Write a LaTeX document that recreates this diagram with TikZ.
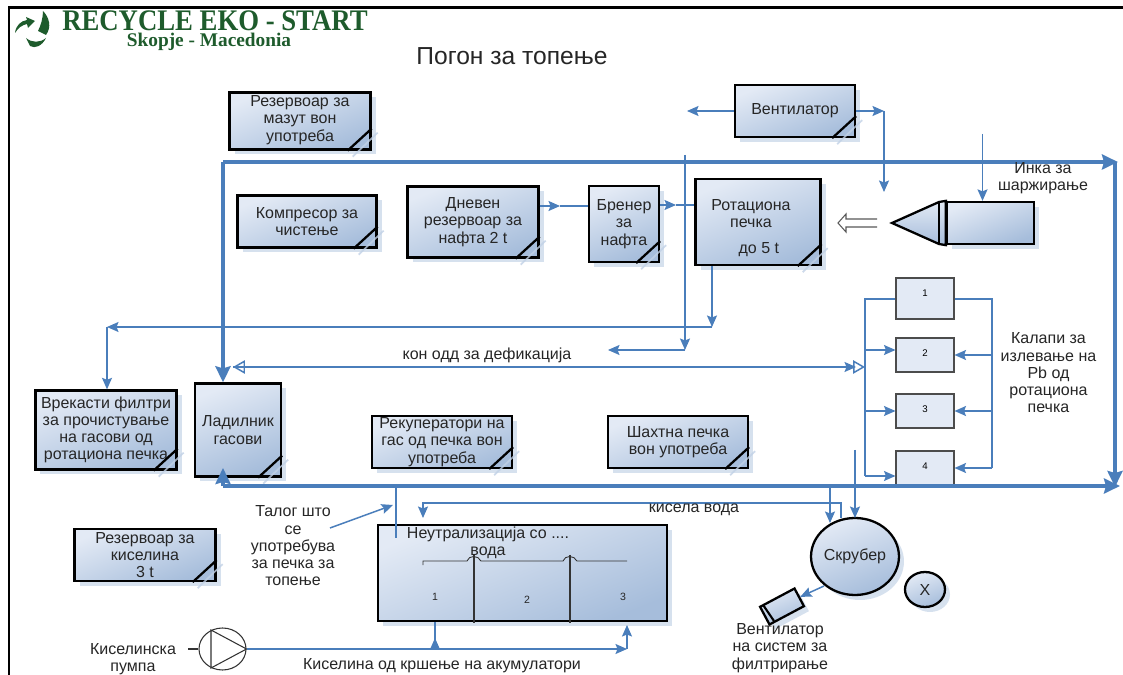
\documentclass[tikz,border=0pt]{standalone}
\usepackage{fontspec}
\setmainfont{Liberation Sans}
\newfontfamily\logofont{Liberation Serif}
\usepackage{tikz}
\usetikzlibrary{arrows, arrows.meta, shadows, shapes.geometric}
\definecolor{flowblue}{HTML}{4A7EBB}
\definecolor{boxlight}{HTML}{E3EAF5}
\definecolor{boxdark}{HTML}{A6BDDB}
\definecolor{logogreen}{HTML}{1E5B2C}
\tikzset{
    procbox/.style 2 args={draw=black, line width=1.3pt, top color=boxlight, bottom color=boxdark,
        shading angle=22, minimum width=#1*0.02cm, minimum height=#2*0.02cm, inner sep=0pt,
        align=center, font=\fontsize{9.1}{9.8}\selectfont, text=black!85,
        drop shadow={shadow xshift=0.1cm, shadow yshift=-0.1cm, fill=boxdark, opacity=0.45}},
    moldbox/.style={draw=black!70, line width=0.6pt, fill=boxlight, minimum width=58*0.02cm,
        inner sep=0pt, label={[anchor=north, font=\fontsize{5.5}{6}\selectfont, yshift=-6*0.02cm]north:#1}},
    thinflow/.style={draw=flowblue, line width=0.85pt, >={Stealth[length=2.3mm, width=2mm, inset=0.4mm]}},
    thickflow/.style={draw=flowblue, line width=2.3pt, >={Stealth[length=3.2mm, width=3mm, inset=0.4mm]}},
    plaintext/.style={align=center, font=\fontsize{9.1}{9.8}\selectfont, text=black!85, inner sep=0pt},
    smalltext/.style={plaintext, font=\fontsize{6}{7}\selectfont},
}
\begin{document}
\begin{tikzpicture}[x=0.02cm, y=-0.02cm]
    \useasboundingbox (0, 0) rectangle (1123, 675);
    \fill [white] (0, 0) rectangle (1123, 675);
    % Frame
    \draw [black, line width=1.3pt] (9, 675) -- (9, 7.5) -- (1123, 7.5);
    % Logo
    \fill [logogreen] (15, 33) .. controls (16, 25) and (21, 21) .. (27, 20) -- (26, 17) -- (35, 21) -- (28, 28) -- (27, 24) .. controls (22, 25) and (18, 28) .. (15, 33);
    \fill [logogreen] (43, 11) .. controls (49, 17) and (52, 27) .. (46, 35) -- (38, 31) .. controls (41, 25) and (43, 18) .. (43, 11);
    \fill [logogreen] (26, 38) .. controls (32, 43) and (40, 43) .. (46, 38) .. controls (42, 46) and (35, 49) .. (30, 46) -- (26, 38);
    \node [logogreen, font=\logofont\bfseries\fontsize{17}{17}\selectfont, xscale=0.895, anchor=west, inner sep=0pt, text depth=0pt] (logotitle) at (62, 20.5) {RECYCLE EKO - START};
    \node [logogreen, font=\logofont\bfseries\fontsize{11}{11}\selectfont, inner sep=0pt, text depth=0pt, text height=6.5pt] (logosub) at (209, 41) {Skopje - Macedonia};
    % Title
    \node [plaintext, font=\fontsize{14}{15}\selectfont] (title) at (512, 56) {Погон за топење};
    % Boxes
    \node [procbox={141}{57}] (mazut) at (300, 121) {Резервоар за\\мазут вон\\употреба\rule[-3pt]{0pt}{3pt}};
    \node [procbox={139}{52}] (kompresor) at (307, 221.5) {Компресор за\\чистење};
    \node [procbox={131}{71}] (dneven) at (473, 222) {Дневен\\резервоар за\\нафта 2 t};
    \node [procbox={70}{76}] (brener) at (624, 224) {Бренер\\за\\нафта};
    \node [procbox={125}{86}] (rotaciona) at (758, 222) {\rule{0pt}{13pt}\hspace*{-8pt}Ротациона\\\hspace*{-8pt}печка\\[5pt]\hspace*{1pt}до 5 t};
    \node [procbox={120}{52}] (ventilator) at (795, 111) {Вентилатор};
    \node [procbox={141}{79}] (vrekasti) at (106, 430) {Врекасти филтри\\за прочистување\\на гасови од\\ротациона печка};
    \node [procbox={86}{93}] (ladilnik) at (238, 430) {Ладилник\\гасови};
    \node [procbox={140}{52}] (rekuperatori) at (442, 442) {Рекуператори на\\гас од печка вон\\употреба};
    \node [procbox={140}{52}] (shahtna) at (678, 442) {Шахтна печка\\вон употреба};
    \node [procbox={141}{52}] (kiselina) at (145, 555) {Резервоар за\\киселина\\3 t};
    \node [procbox={289}{96}, anchor=north west] (neutral) at (377, 524) {};
    \node [procbox={87}{42}] (inka) at (990.5, 223) {};
    \node [procbox={87}{77}, ellipse] (skruber) at (855, 556.5) {Скрубер};
    \node [procbox={40}{35}, ellipse] (iks) at (925, 589.5) {X};
    \node [procbox={39}{20}, rotate=28] (fan) at (782, 606.5) {};
    \draw [black, line width=1.2pt] (763.6, 605.7) -- (774, 621);
    % Corner folds
    \foreach \boxname in {mazut, kompresor, dneven, brener, rotaciona, ventilator, vrekasti, ladilnik, rekuperatori, shahtna, kiselina} {
        \draw [boxdark!70, line width=1pt, opacity=0.8] ([xshift=-0.38cm, yshift=-0.12cm]\boxname.south east) -- ([xshift=0.12cm, yshift=0.36cm]\boxname.south east);
        \draw [black, line width=1.3pt] ([xshift=-0.48cm]\boxname.south east) -- ([yshift=0.44cm]\boxname.south east);
    }
    % Furnace charger
    \draw [black, line width=1.3pt, top color=boxlight, bottom color=boxdark] (inka.north west) -- (939, 202) -- (892, 223) -- (939, 244) -- (inka.south west) -- cycle;
    \draw [black, line width=1.3pt] (939, 202) -- (939, 244);
    \draw [black!65, line width=0.6pt, fill=white] (877, 219) -- (846, 219) -- (846, 214) -- (838, 223) -- (846, 232) -- (846, 227) -- (877, 227);
    % Mold boxes
    \node [moldbox=1, minimum height=41*0.02cm] (mold1) at (925, 298.5) {};
    \node [moldbox=2, minimum height=34*0.02cm] (mold2) at (925, 355) {};
    \node [moldbox=3, minimum height=34*0.02cm] (mold3) at (925, 411) {};
    \node [moldbox=4, minimum height=35*0.02cm] (mold4) at (925, 468.5) {};
    % Free ends
    \coordinate (topleft) at (223, 162);
    \coordinate (topright) at (1118, 162);
    \coordinate (rightturn) at (1115, 162);
    \coordinate (rightend) at (1115, 487);
    \coordinate (botright) at (1120, 486);
    \coordinate (botleft) at (223, 486);
    \coordinate (ladiltip) at (223, 468);
    \coordinate (busleft) at (865, 299);
    \coordinate (busright) at (992, 299);
    \coordinate (ventleft) at (687, 111);
    \coordinate (ventturn) at (884, 111);
    \coordinate (venttip) at (884, 192);
    \coordinate (inkatop) at (982.5, 134);
    \coordinate (filterturn) at (107, 327);
    \coordinate (rotturn) at (712, 327);
    \coordinate (airtop) at (685, 155);
    \coordinate (airturn) at (685, 350);
    \coordinate (airleft) at (608, 350);
    \coordinate (defleft) at (233, 367);
    \coordinate (defright) at (865, 367);
    \coordinate (sludgetop) at (396, 486);
    \coordinate (sludgebot) at (396, 538);
    \coordinate (sludgefrom) at (330, 528);
    \coordinate (sludgeto) at (393, 505);
    \coordinate (waterright) at (841, 518);
    \coordinate (waterturn) at (841, 503);
    \coordinate (waterleft) at (423, 503);
    \coordinate (watertip) at (423, 518);
    \coordinate (scrubtop) at (855, 450);
    \coordinate (scrubtip) at (855, 518);
    \coordinate (feedtop) at (830, 486);
    \coordinate (feedtip) at (830, 523);
    \coordinate (skruberout) at (824, 586);
    \coordinate (acidone) at (435, 648);
    \coordinate (acidtwo) at (627, 648);
    % Main lines
    \draw [thickflow, ->] (topleft) -- (topleft |- ladilnik.north);
    \draw [thickflow, ->] (topleft) -- (topright);
    \draw [thickflow, ->] (rightturn) -- (rightend);
    \draw [thickflow, ->] (botleft) -- (botright);
    \draw [thickflow, ->] (botleft) -- (ladiltip);
    % Thin lines
    \draw [thinflow, ->] (dneven.east |- 0, 206) -- (560, 206);
    \draw [thinflow] (560, 206) -- (brener.west |- 0, 206);
    \draw [thinflow, ->] (brener.east |- 0, 205) -- (676, 205);
    \draw [thinflow] (676, 205) -- (rotaciona.west |- 0, 205);
    \draw [thinflow, ->] (ventilator.west) -- (ventleft);
    \draw [thinflow, ->] (ventilator.east) -- (ventturn);
    \draw [thinflow, ->] (ventturn) -- (venttip);
    \draw [thinflow, ->] (inkatop) -- (inkatop |- inka.north);
    \draw [thinflow, ->] (rotturn |- rotaciona.south) -- (rotturn);
    \draw [thinflow, ->] (rotturn) -- (filterturn);
    \draw [thinflow, ->] (filterturn) -- (filterturn |- vrekasti.north);
    \draw [thinflow, ->] (airtop) -- (airturn);
    \draw [thinflow, ->] (airturn) -- (airleft);
    \draw [thinflow, open triangle 60-open triangle 60] (defleft) -- (defright);
    \draw [thinflow, ->] (defleft) -- (856, 367);
    % Molds
    \draw [thinflow] (mold1.west |- busleft) -- (busleft) -- (865, 476);
    \draw [thinflow] (mold1.east |- busright) -- (busright) -- (992, 468);
    \draw [thinflow, ->] (865, 350) -- (mold2.west |- 0, 350);
    \draw [thinflow, ->] (865, 411) -- (mold3.west);
    \draw [thinflow, ->] (865, 476) -- (mold4.west |- 0, 476);
    \draw [thinflow, ->] (992, 355) -- (mold2.east);
    \draw [thinflow, ->] (992, 411) -- (mold3.east);
    \draw [thinflow, ->] (992, 468) -- (mold4.east |- 0, 468);
    % Neutralisation lines
    \draw [thinflow] (sludgetop) -- (sludgebot);
    \draw [thinflow, ->] (sludgefrom) -- (sludgeto);
    \draw [thinflow, ->] (waterright) -- (waterturn) -- (waterleft) -- (watertip);
    \draw [thinflow, ->] (scrubtop) -- (scrubtip);
    \draw [thinflow, ->] (feedtop) -- (feedtip);
    \draw [thinflow, ->] (skruberout) -- (fan.east);
    % Neutralisation inside
    \draw [black!80, line width=0.5pt] (423, 565) -- (423, 561) -- (467, 561) .. controls (469, 555) and (478, 555) .. (481, 561) -- (563, 561) .. controls (565, 555) and (574, 555) .. (577, 561) -- (627, 561);
    \draw [black!80, line width=0.6pt] (474, 555) -- (474, 623);
    \draw [black!80, line width=0.6pt] (570, 555) -- (570, 623);
    \node [plaintext] (neutraltext) at (488, 543) {Неутрализација со ....\\вода};
    \node [smalltext] (neutralone) at (435, 597) {1};
    \node [smalltext] (neutraltwo) at (527, 600) {2};
    \node [smalltext] (neutralthree) at (623, 597) {3};
    % Pump
    \node [draw=black!80, ellipse, line width=0.6pt, minimum width=47*0.02cm, minimum height=42*0.02cm, inner sep=0pt] (pump) at (222.5, 649) {};
    \draw [black!80, line width=0.6pt] (211, 630) -- (pump.east) -- (211, 668) -- cycle;
    \draw [black!80, line width=0.6pt] (188, 649) -- (pump.west);
    \draw [thinflow, ->] (pump.east) -- (acidtwo |- pump.east);
    \draw [thinflow] (acidone |- pump.east) -- (acidone |- neutral.south);
    \draw [thinflow, ->] (acidone |- pump.east) -- (435, 638);
    \draw [thinflow, ->] (acidtwo |- pump.east) -- (627, 625);
    % Labels
    \node [plaintext] (inkalabel) at (1043, 178.5) {Инка за\\шаржирање};
    \node [plaintext] (deflabel) at (487, 355) {кон одд за дефикација};
    \node [plaintext] (kalapilabel) at (1048.5, 373) {Калапи за\\излевање на\\Pb од\\ротациона\\печка};
    \node [plaintext] (taloglabel) at (293, 546) {Талог што\\се\\употребува\\за печка за\\топење};
    \node [plaintext] (acidlabel) at (442, 666) {Киселина од кршење на акумулатори};
    \node [plaintext] (pumplabel) at (133, 659) {Киселинска\\пумпа};
    \node [plaintext] (waterlabel) at (694, 510) {кисела вода};
    \node [plaintext] (fanlabel) at (780, 648) {Вентилатор\\на систем за\\филтрирање};
\end{tikzpicture}
\end{document}
